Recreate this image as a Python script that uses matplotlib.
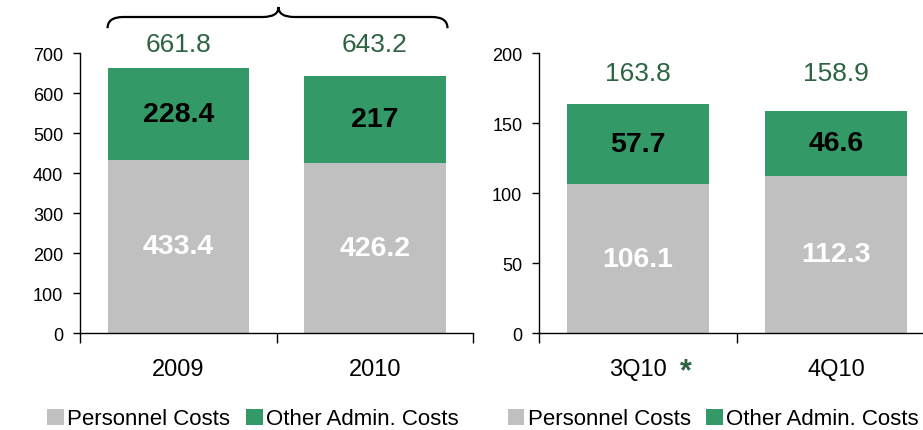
import numpy as np
import matplotlib.pyplot as plt
from matplotlib.path import Path
from matplotlib.patches import PathPatch

plt.rcParams['font.family'] = ['Liberation Sans', 'DejaVu Sans']

years = ['2009', '2010']
personnel_year = [433.4, 426.2]
admin_year = [228.4, 217]
total_year = [661.8, 643.2]

quarters = ['3Q10', '4Q10']
personnel_q = [106.1, 112.3]
admin_q = [57.7, 46.6]
total_q = [163.8, 158.9]

grey = '#C0C0C0'
green = '#339966'
dark_green = '#2E6343'

fig = plt.figure(figsize=(9.23, 4.31), dpi=100)
ax1 = fig.add_axes([0.0867, 0.225, 0.4258, 0.6497])
ax2 = fig.add_axes([0.584, 0.225, 0.429, 0.6497])


def draw_panel(ax, cats, pers, adm, tot, ymax, step, total_y):
    x = np.arange(len(cats))
    ax.bar(x, pers, width=0.72, color=grey, label='Personnel Costs')
    ax.bar(x, adm, width=0.72, bottom=pers, color=green, label='Other Admin. Costs')
    for i in range(len(cats)):
        ax.text(x[i], pers[i] / 2, f'{pers[i]:g}', ha='center', va='center',
                color='white', fontsize=20.5, fontweight='bold')
        ax.text(x[i], pers[i] + adm[i] / 2, f'{adm[i]:g}', ha='center', va='center',
                color='black', fontsize=20.5, fontweight='bold')
        ax.text(x[i], total_y, f'{tot[i]:g}', ha='center', va='center',
                color=dark_green, fontsize=19, clip_on=False)
    ax.set_xlim(-0.5, len(cats) - 0.5)
    ax.set_ylim(0, ymax)
    ax.set_yticks(np.arange(0, ymax + 1, step))
    ax.set_xticks(x)
    ax.set_xticklabels(cats, fontsize=17)
    ax.set_xticks(np.arange(-0.5, len(cats), 1.0), minor=True)
    ax.tick_params(axis='x', which='major', length=0, pad=18)
    ax.tick_params(axis='x', which='minor', length=7, width=1, direction='out')
    ax.tick_params(axis='y', length=5, width=1, direction='out', labelsize=13, pad=7)
    for s in ['top', 'right']:
        ax.spines[s].set_visible(False)
    for s in ['left', 'bottom']:
        ax.spines[s].set_linewidth(1)
    ax.legend(loc='center', bbox_to_anchor=(0.44, -0.307), ncol=2, frameon=False,
              fontsize=16, handlelength=0.75, handleheight=0.75, handletextpad=0.15,
              columnspacing=0.7, borderaxespad=0)


draw_panel(ax1, years, personnel_year, admin_year, total_year, 700, 100, 722)
draw_panel(ax2, quarters, personnel_q, admin_q, total_q, 200, 50, 186)

# curly brace over the annual bars
x0, xm, x1 = -0.36, 0.51, 1.37
y_end, y_mid, y_tip = 762, 790, 815
verts = [(x0, y_end), (x0, y_mid), (x0 + 0.08, y_mid),
         (xm - 0.08, y_mid), (xm, y_mid), (xm, y_tip),
         (xm, y_mid), (xm + 0.08, y_mid),
         (x1 - 0.08, y_mid), (x1, y_mid), (x1, y_end)]
codes = [Path.MOVETO, Path.CURVE3, Path.CURVE3,
         Path.LINETO, Path.CURVE3, Path.CURVE3,
         Path.CURVE3, Path.CURVE3,
         Path.LINETO, Path.CURVE3, Path.CURVE3]
ax1.add_patch(PathPatch(Path(verts, codes), fill=False, lw=1.6,
                        edgecolor='black', clip_on=False))

ax2.text(0.37, -0.135, '*', transform=ax2.transAxes, ha='center', va='center',
         color=dark_green, fontsize=22, fontweight='bold')

fig.savefig('out.png', dpi=100)
